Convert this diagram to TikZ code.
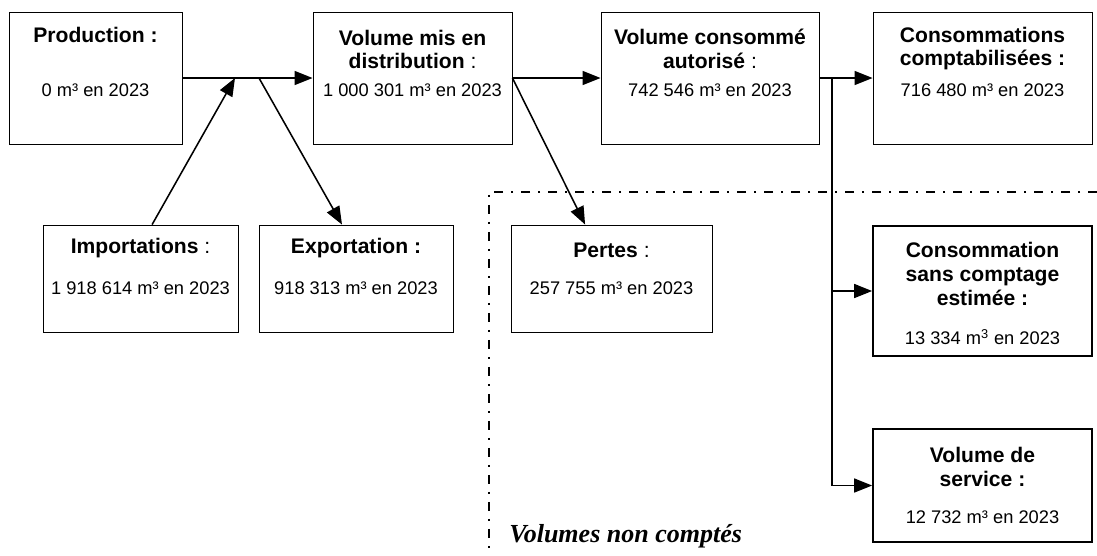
\documentclass[tikz,border=0pt]{standalone}
\usepackage{fontspec}
\setmainfont{Liberation Sans}
\newfontfamily\timesfont{Liberation Serif}
\usetikzlibrary{positioning}
\usetikzlibrary{arrows.meta}

\tikzset{
	box/.style={draw, rectangle, line width=0.6pt, minimum height=3.3cm, inner sep=0pt},
	boxthick/.style={box, line width=1.2pt},
	ttl/.style={font=\fontsize{15}{17}\selectfont\bfseries, align=center, inner sep=0pt},
	val/.style={font=\fontsize{13}{15}\selectfont, inner sep=0pt},
	arr/.style={line width=1.1pt, -{Triangle[length=0.45cm,width=0.35cm]}},
	nonctline/.style={line width=1.7pt, dash pattern=on 6.5pt off 5.5pt on 1.7pt off 5.5pt},
}

\begin{document}
\begin{tikzpicture}[x=0.025cm, y=-0.025cm]
		\useasboundingbox (0,0) rectangle (1097,555);
		% top row
		\node[box, minimum width=4.325cm] at (95.5,78) (prod) {};
		\node[box, minimum width=4.975cm] at (412.5,78) (dist) {};
		\node[box, minimum width=5.45cm] at (710,78) (auto) {};
		\node[box, minimum width=5.475cm] at (982.5,78) (compt) {};
		\node[ttl] at (95.5,35) (prodT) {Production :};
		\node[val] at (95.5,90) (prodV) {0 m³ en 2023};
		\node[ttl] at (412.5,49.5) (distT) {Volume mis en\\distribution \textmd{:}};
		\node[val] at (412.5,90) (distV) {1 000 301 m³ en 2023};
		\node[ttl] at (710,48.5) (autoT) {Volume consommé\\autorisé \textmd{:}};
		\node[val] at (710,90) (autoV) {742 546 m³ en 2023};
		\node[ttl] at (982.5,48.5) (comptT) {Consommations\\comptabilisées :};
		\node[val] at (982.5,90) (comptV) {716 480 m³ en 2023};
		% second row
		\node[box, minimum width=4.875cm, minimum height=2.675cm] at (140.5,278.5) (impo) {};
		\node[box, minimum width=4.85cm, minimum height=2.675cm] at (356,278.5) (expo) {};
		\node[box, minimum width=5.025cm, minimum height=2.675cm] at (611.5,278.5) (pert) {};
		\node[ttl] at (140.5,248) (impoT) {Importations \textmd{:}};
		\node[val] at (140.5,288) (impoV) {1 918 614 m³ en 2023};
		\node[ttl] at (356,248) (expoT) {Exportation :};
		\node[val] at (356,288) (expoV) {918 313 m³ en 2023};
		\node[ttl] at (611.5,250) (pertT) {Pertes \textmd{:}};
		\node[val] at (611.5,288) (pertV) {257 755 m³ en 2023};
		% right column
		\node[boxthick, minimum width=5.475cm, minimum height=3.25cm] at (982.5,291) (sans) {};
		\node[boxthick, minimum width=5.475cm, minimum height=2.825cm] at (982.5,485.5) (serv) {};
		\node[ttl] at (982.5,274) (sansT) {Consommation\\sans comptage\\estimée :};
		\node[val] at (982.5,337) (sansV) {13 334 m\textsuperscript{3} en 2023};
		\node[ttl] at (982.5,467) (servT) {Volume de\\service :};
		\node[val] at (982.5,517) (servV) {12 732 m³ en 2023};
		% volumes non comptes
		\draw[nonctline] (1097,192) -- (489,192) -- (489,555);
		\node[font={\timesfont\fontsize{18.5}{20}\selectfont\bfseries\itshape}, anchor=base west, inner sep=0pt] at (509,542) (nonct) {Volumes non comptés};
		% arrows
		\coordinate (jin) at (235,78);
		\coordinate (jout) at (259,78);
		\coordinate (br) at (832,78);
		\draw[arr] (prod) to (dist);
		\draw[arr] ([xshift=0.29cm]impo.north) to (jin);
		\draw[arr] (jout) to ([xshift=-0.35cm]expo.north);
		\draw[arr] (dist.east) to ([xshift=-0.66cm]pert.north);
		\draw[arr] (dist) to (auto);
		\draw[arr] (auto) to (compt);
		\draw[arr] (br) |- (sans.west);
		\draw[arr] (br) |- (serv.west);
	\end{tikzpicture}
\end{document}
